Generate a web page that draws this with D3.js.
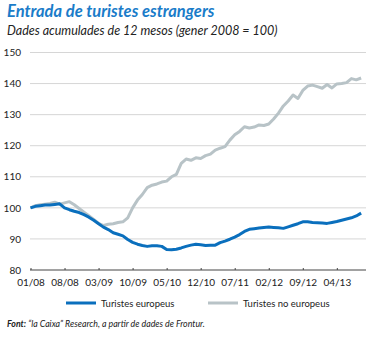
<!DOCTYPE html>
<html>
<head>
<meta charset="utf-8">
<script src="https://cdn.jsdelivr.net/npm/d3@7"></script>
<style>
  html, body { margin: 0; padding: 0; background: #fff; }
  svg { display: block; font-family: Lato, "Open Sans", sans-serif; }
</style>
</head>
<body>
<svg id="chart" width="380" height="338"></svg>
<script>
// Monthly index, 12-month accumulated arrivals (January 2008 = 100)
const months = d3.timeMonths(new Date(2008, 0, 1), new Date(2013, 9, 2))
  .map(d3.timeFormat("%m/%y"));

const europeus = [
  100.0, 100.5, 100.7, 100.9, 100.9, 101.1, 101.3, 100.0, 99.4, 98.9,
  98.5, 97.8, 97.0, 96.0, 94.9, 93.8, 93.0, 92.0, 91.5, 91.0,
  89.8, 88.9, 88.3, 87.9, 87.6, 87.8, 87.8, 87.6, 86.6, 86.5,
  86.7, 87.1, 87.6, 88.0, 88.3, 88.1, 87.9, 88.0, 88.0, 88.8,
  89.3, 89.9, 90.6, 91.4, 92.4, 93.1, 93.3, 93.5, 93.7, 93.8,
  93.7, 93.6, 93.4, 93.9, 94.4, 94.9, 95.5, 95.5, 95.3, 95.2,
  95.1, 95.0, 95.3, 95.6, 96.0, 96.4, 96.8, 97.4, 98.3
];

const noEuropeus = [
  100.0, 100.7, 101.0, 101.2, 101.4, 101.8, 101.2, 101.6, 102.0, 101.0,
  99.8, 98.6, 97.5, 96.3, 95.0, 94.3, 94.7, 94.9, 95.3, 95.5,
  96.8, 100.0, 102.5, 104.3, 106.5, 107.3, 107.7, 108.3, 108.6, 110.0,
  110.8, 114.3, 115.7, 115.3, 116.1, 115.9, 116.8, 117.3, 118.6, 119.2,
  119.7, 121.8, 123.5, 124.6, 126.1, 125.7, 126.0, 126.7, 126.5, 127.0,
  128.6, 130.5, 132.8, 134.4, 136.3, 135.2, 137.8, 139.2, 139.5, 139.0,
  138.5, 139.7, 138.6, 139.9, 140.0, 140.3, 141.6, 141.2, 141.8
];

const xTickLabels = ["01/08", "08/08", "03/09", "10/09", "05/10", "12/10", "07/11", "02/12", "09/12", "04/13"];
const yTicks = [80, 90, 100, 110, 120, 130, 140, 150];

const seriesNames = ["Turistes europeus", "Turistes no europeus"];
const seriesColors = ["#0a6fbd", "#b8c3c7"];

const svg = d3.select("#chart");

const x = d3.scalePoint().domain(months).range([30.5, 366]);
const y = d3.scaleLinear().domain([80, 150]).range([270, 52.5]);

// Titles
svg.append("text")
  .attr("x", 7).attr("y", 17)
  .attr("fill", "#1a7cc9")
  .style("font-size", "16.5px").style("font-weight", "bold").style("font-style", "italic")
  .text("Entrada de turistes estrangers");

svg.append("text")
  .attr("x", 7).attr("y", 35)
  .attr("fill", "#222")
  .style("font-size", "12.5px").style("font-style", "italic")
  .text("Dades acumulades de 12 mesos (gener 2008 = 100)");

// Horizontal grid
svg.append("g")
  .selectAll("line")
  .data(yTicks.filter(t => t > 80))
  .join("line")
  .attr("x1", 30).attr("x2", 366)
  .attr("y1", d => y(d)).attr("y2", d => y(d))
  .attr("stroke", "#d6d6d6").attr("stroke-width", 1);

// Y axis labels
const yAxis = svg.append("g")
  .attr("transform", "translate(30,0)")
  .call(d3.axisLeft(y).tickValues(yTicks).tickSize(0).tickPadding(9));
yAxis.select(".domain").remove();
yAxis.selectAll("text")
  .attr("fill", "#222")
  .style("font-family", "Lato, sans-serif").style("font-size", "10px");

// X axis
const xAxis = svg.append("g")
  .attr("transform", `translate(0,${y(80)})`)
  .call(d3.axisTop(x).tickValues(xTickLabels).tickSizeOuter(0).tickSizeInner(2).tickFormat(d => d));
xAxis.select(".domain").attr("d", "M30,0H366").attr("stroke", "#444");
xAxis.selectAll(".tick line").attr("stroke", "#444");
xAxis.selectAll("text")
  .attr("y", 15.5)
  .attr("fill", "#222")
  .style("font-family", "Lato, sans-serif").style("font-size", "10px");

// Lines
const line = d3.line()
  .x((d, i) => x(months[i]))
  .y(d => y(d))
  .curve(d3.curveLinear);

[noEuropeus, europeus].forEach((s, k) => {
  svg.append("path")
    .datum(s)
    .attr("fill", "none")
    .attr("stroke", seriesColors[1 - k])
    .attr("stroke-width", 3)
    .attr("stroke-linejoin", "round")
    .attr("d", line);
});

// Legend
const legendItems = [
  { x: 66, name: seriesNames[0], color: seriesColors[0] },
  { x: 208, name: seriesNames[1], color: seriesColors[1] }
];
const lg = svg.append("g").selectAll("g").data(legendItems).join("g")
  .attr("transform", d => `translate(${d.x},303)`);
lg.append("line").attr("x1", 0).attr("x2", 30)
  .attr("stroke", d => d.color).attr("stroke-width", 3);
lg.append("text").attr("x", 35).attr("y", 3.5)
  .attr("fill", "#222").style("font-size", "9.5px")
  .text(d => d.name);

// Source note
const src = svg.append("text")
  .attr("x", 7).attr("y", 327)
  .attr("fill", "#222")
  .style("font-size", "8.8px").style("font-style", "italic");
src.append("tspan").style("font-weight", "bold").text("Font:");
src.append("tspan").text(" “la Caixa” Research, a partir de dades de Frontur.");
</script>
</body>
</html>
